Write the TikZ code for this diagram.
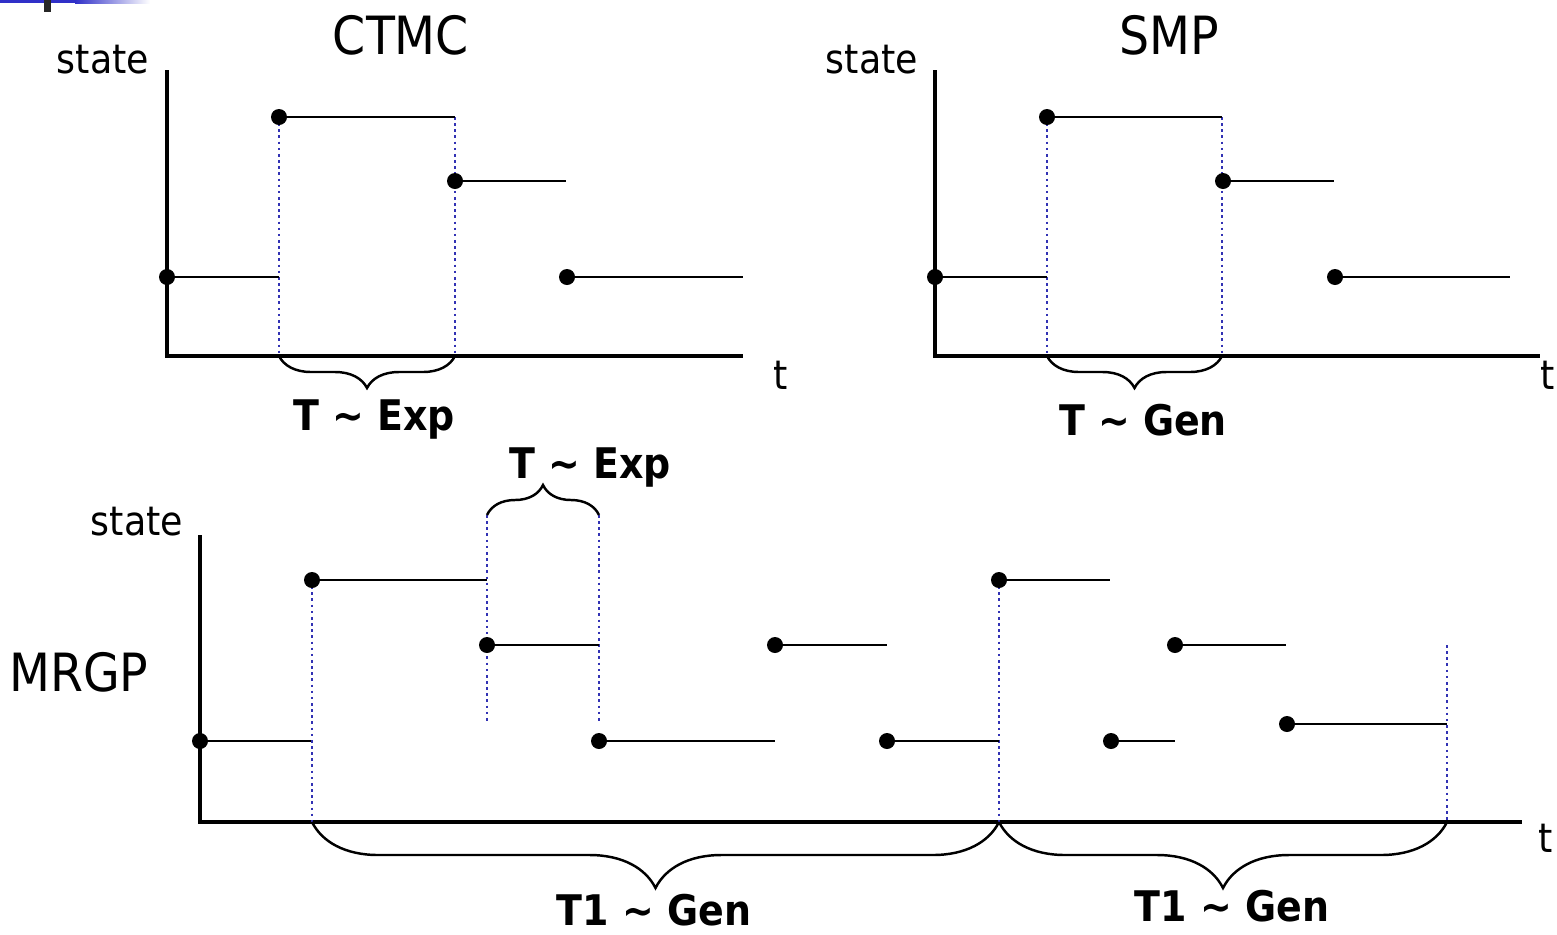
\documentclass[tikz,border=0pt]{standalone}
\usepackage{fontspec}
\setmainfont{DejaVu Sans Condensed}
\usetikzlibrary{calc,decorations.pathreplacing}

\definecolor{dotblue}{RGB}{50,50,180}
\definecolor{barblue}{RGB}{48,48,200}

\tikzset{
  axis/.style={line width=2pt},
  level/.style={line width=1.6pt},
  jump/.style={dotblue, dotted, line width=1.5pt},
  brc/.style={decorate, decoration={brace, amplitude=#1}, line width=1.4pt},
  brcdown/.style={decorate, decoration={brace, mirror, amplitude=#1}, line width=1.4pt},
  dot/.style={circle, fill, inner sep=0pt, minimum size=0.32cm},
  lbl/.style={font=\fontsize{23}{27}\selectfont},
  ttl/.style={font=\fontsize{30}{34}\selectfont},
  blbl/.style={font=\fontsize{24}{28}\selectfont\bfseries},
}

\begin{document}
\begin{tikzpicture}[x=0.02cm,y=-0.02cm]
\useasboundingbox (0,0) rectangle (1557,934);

% corner bar
\fill[barblue] (0,0) rectangle (75,3);
\shade[left color=barblue, right color=white] (75,0) rectangle (150,3);
\fill[black!85] (44,0) rectangle (51,12);

%%% CTMC
\coordinate (co) at (167,356); %origin
\coordinate (cy) at (167,70); %top of axis
\coordinate (cx) at (743,356); %end of axis
\coordinate (c1) at (167,277); \coordinate (c1e) at (279,277);
\coordinate (c2) at (279,117); \coordinate (c2e) at (455,117);
\coordinate (c3) at (455,181); \coordinate (c3e) at (566,181);
\coordinate (c4) at (567,277); \coordinate (c4e) at (743,277);
\coordinate (cb1) at (279,356); \coordinate (cb2) at (455,356);

\draw[axis] (cy) -- (co) -- (cx);
\draw[jump] (c2) -- (cb1);
\draw[jump] (c2e) -- (cb2);
\draw[level] (c1) -- (c1e);
\draw[level] (c2) -- (c2e);
\draw[level] (c3) -- (c3e);
\draw[level] (c4) -- (c4e);
\foreach \p in {c1,c2,c3,c4} \node[dot] at (\p) {};
\draw[brcdown=0.64cm] (cb1) -- (cb2);

\node[lbl] (cst) at (103,60) {state};
\node[ttl] (ctit) at (401,35) {CTMC};
\node[lbl] (ct) at (781,375) {t};
\node[blbl] (cT) at (374,420) {T \textasciitilde{} Exp};

%%% SMP
\coordinate (so) at (935,356); %origin
\coordinate (sy) at (935,70);
\coordinate (sx) at (1540,356);
\coordinate (s1) at (935,277); \coordinate (s1e) at (1047,277);
\coordinate (s2) at (1047,117); \coordinate (s2e) at (1222,117);
\coordinate (s3) at (1223,181); \coordinate (s3e) at (1334,181);
\coordinate (s4) at (1335,277); \coordinate (s4e) at (1510,277);
\coordinate (sb1) at (1047,356); \coordinate (sb2) at (1222,356);

\draw[axis] (sy) -- (so) -- (sx);
\draw[jump] (s2) -- (sb1);
\draw[jump] (s2e) -- (sb2);
\draw[level] (s1) -- (s1e);
\draw[level] (s2) -- (s2e);
\draw[level] (s3) -- (s3e);
\draw[level] (s4) -- (s4e);
\foreach \p in {s1,s2,s3,s4} \node[dot] at (\p) {};
\draw[brcdown=0.64cm] (sb1) -- (sb2);

\node[lbl] (sst) at (872,60) {state};
\node[ttl] (stit) at (1169,35) {SMP};
\node[lbl] (st) at (1548,375) {t};
\node[blbl] (sT) at (1143,420) {T \textasciitilde{} Gen};

%%% MRGP
\coordinate (mo) at (200,822); %origin
\coordinate (my) at (200,535);
\coordinate (mx) at (1522,822);
\coordinate (m1) at (200,741);  \coordinate (m1e) at (311,741);
\coordinate (m2) at (312,580);  \coordinate (m2e) at (487,580);
\coordinate (m3) at (487,645);  \coordinate (m3e) at (599,645);
\coordinate (m4) at (599,741);  \coordinate (m4e) at (775,741);
\coordinate (m5) at (775,645);  \coordinate (m5e) at (887,645);
\coordinate (m6) at (887,741);  \coordinate (m6e) at (999,741);
\coordinate (m7) at (999,580);  \coordinate (m7e) at (1110,580);
\coordinate (m8) at (1111,741); \coordinate (m8e) at (1175,741);
\coordinate (m9) at (1175,645); \coordinate (m9e) at (1286,645);
\coordinate (m10) at (1287,724); \coordinate (m10e) at (1447,724);
% jump markers
\coordinate (mb1) at (312,822);
\coordinate (mb2) at (999,822);
\coordinate (mb3) at (1447,822);
\coordinate (mt3) at (1447,645);
\coordinate (mu1) at (487,515); \coordinate (md1) at (487,722);
\coordinate (mu2) at (599,515); \coordinate (md2) at (599,722);

\draw[axis] (my) -- (mo) -- (mx);
\draw[jump] (m2) -- (mb1);
\draw[jump] (mu1) -- (md1);
\draw[jump] (mu2) -- (md2);
\draw[jump] (m7) -- (mb2);
\draw[jump] (mt3) -- (mb3);
\foreach \p in {1,...,10} \draw[level] (m\p) -- (m\p e);
\foreach \p in {1,...,10} \node[dot] at (m\p) {};
\draw[brc=0.6cm] (mu1) -- (mu2);
\draw[brcdown=1.32cm] (mb1) -- (mb2);
\draw[brcdown=1.32cm] (mb2) -- (mb3);

\node[lbl] (mst) at (137,522) {state};
\node[ttl] (mtit) at (79,672) {MRGP};
\node[lbl] (mt) at (1546,838) {t};
\node[blbl] (mT) at (590,468) {T \textasciitilde{} Exp};
\node[blbl] (mT1) at (654,910) {T1 \textasciitilde{} Gen};
\node[blbl] (mT2) at (1232,906) {T1 \textasciitilde{} Gen};
\end{tikzpicture}
\end{document}
